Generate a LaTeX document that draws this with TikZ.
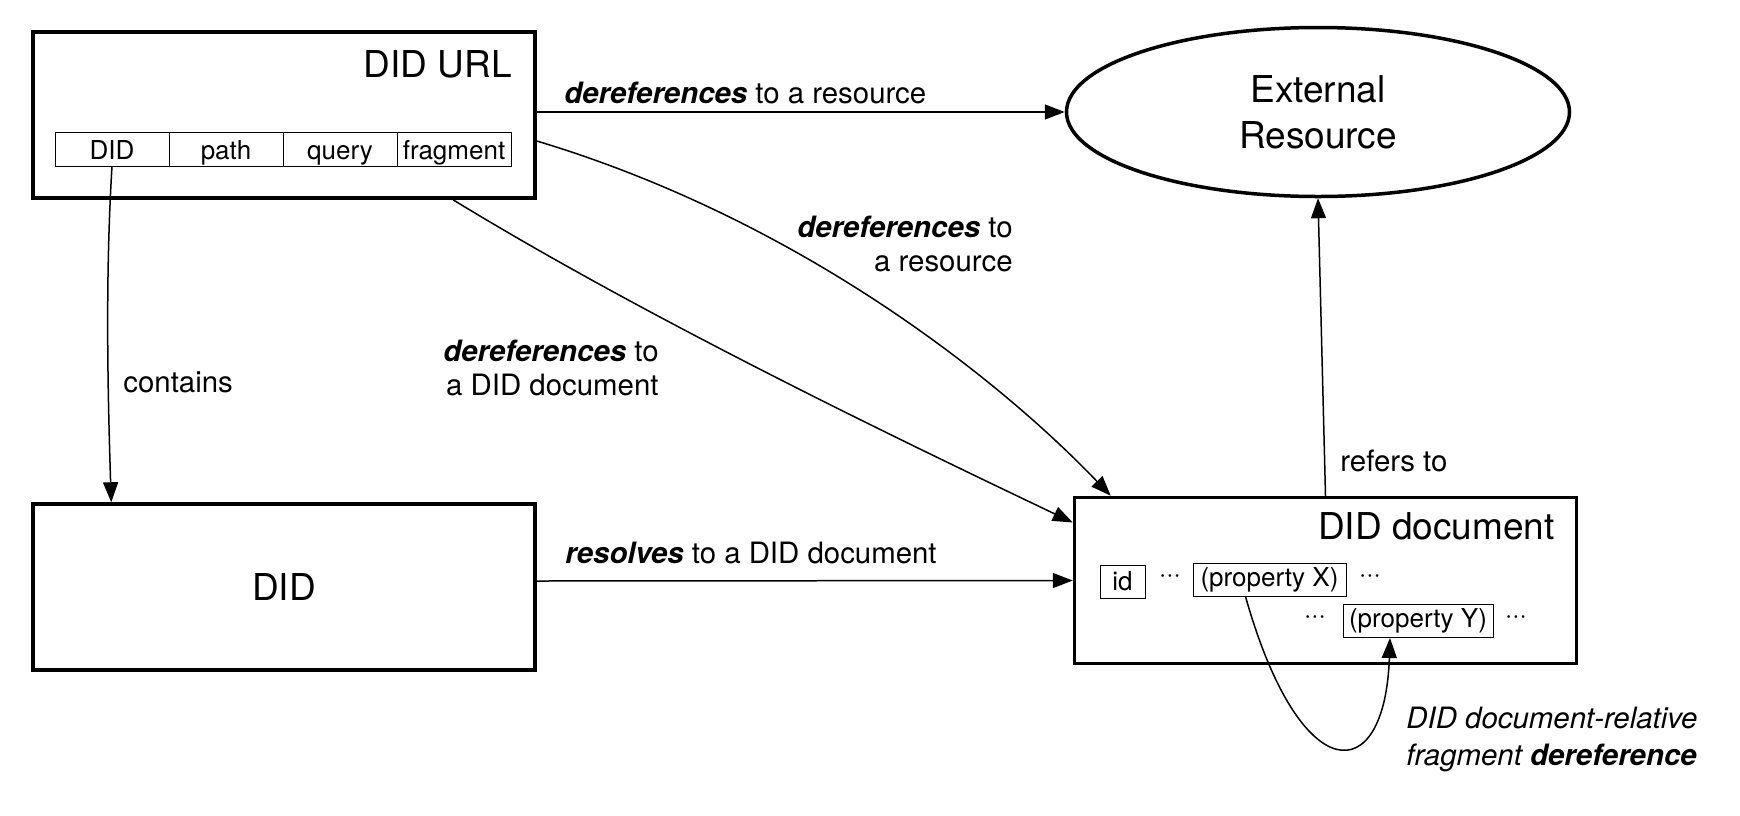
\documentclass[tikz,border=0pt]{standalone}
\usepackage{fontspec}
\setmainfont{TeX Gyre Heros}
\usetikzlibrary{arrows.meta,shapes.geometric}

\newcommand{\bigfont}{\fontsize{18.5}{23}\selectfont}
\newcommand{\lblfont}{\fontsize{14.7}{17}\selectfont}
\newcommand{\smallfont}{\fontsize{13}{15}\selectfont}

\tikzset{
	bigbox/.style={draw,line width=1.75pt,minimum width=251pt,minimum height=83pt,inner sep=0pt},
	segbox/.style={draw,line width=0.5pt,minimum width=57pt,minimum height=17pt,inner sep=0pt,
		text height=13.5pt,text depth=3.5pt,font=\smallfont},
	propbox/.style={draw,line width=0.5pt,minimum height=16.5pt,inner sep=0pt,font=\smallfont},
	lbl/.style={inner sep=0pt,font=\lblfont},
	arr/.style={line width=0.75pt,-{Triangle[length=10pt,width=7.5pt]}},
}

\begin{document}
\begin{tikzpicture}[x=0.5pt,y=-0.5pt]
	
	\useasboundingbox (0,0) rectangle (1740,815);
	
	% DID URL
	\node[bigbox] (url) at (284,115) {};
	\node[anchor=east,inner sep=0pt,font=\bigfont] (urltitle) at (512,64) {DID URL};
	\node[segbox] (segdid) at (112,149) {DID};
	\node[segbox] (segpath) at (226,149) {path};
	\node[segbox] (segquery) at (340,149) {query};
	\node[segbox] (segfrag) at (454,149) {fragment};
	
	% DID
	\node[bigbox,font=\bigfont] (did) at (284,587) {DID};
	
	% External resource
	\node[draw,ellipse,line width=1.75pt,minimum width=251.5pt,minimum height=84.5pt,
	inner sep=0pt,align=center,font=\bigfont] (ext) at (1318,112) {External\\Resource};
	
	% DID document
	\node[bigbox] (doc) at (1325.5,580.5) {};
	\node[anchor=east,inner sep=0pt,font=\bigfont] (doctitle) at (1555,526) {DID document};
	\node[propbox,minimum width=22.5pt] (id) at (1122.5,581.5) {id};
	\node[propbox,minimum width=76.5pt] (propx) at (1269.5,579.5) {(property X)};
	\node[propbox,minimum width=75pt] (propy) at (1418,621) {(property Y)};
	\node[inner sep=0pt,font=\smallfont] (dotsa) at (1170,579) {···};
	\node[inner sep=0pt,font=\smallfont] (dotsb) at (1370,579) {···};
	\node[inner sep=0pt,font=\smallfont] (dotsc) at (1315,620) {···};
	\node[inner sep=0pt,font=\smallfont] (dotsd) at (1516,620) {···};
	
	% arrows
	\draw[arr] (url.east |- ext.west) -- (ext.west);
	\draw[arr] ([yshift=-13pt]url.east) .. controls (800,220) and (1000,380) .. ([xshift=19pt]doc.north west);
	\draw[arr] ([xshift=84.5pt]url.south) .. controls (650,320) and (900,440) .. ([yshift=29pt]doc.west);
	\draw[arr] (segdid.south) .. controls (105,280) and (108,400) .. ([xshift=40pt]did.north west);
	\draw[arr] ([yshift=3pt]did.east) -- (doc.west);
	\draw[arr] (doc.north) -- (ext.south);
	\draw[arr] ([xshift=-12pt]propx.south) .. controls (1300,790) and (1385,790) .. ([xshift=-14pt]propy.south);
	
	% labels
	\node[lbl,anchor=west] (lblres) at (564,93) {\textbf{\textit{dereferences}} to a resource};
	\node[lbl,anchor=east,align=right] (lblres2) at (1013,244) {\textbf{\textit{dereferences}} to\\a resource};
	\node[lbl,anchor=east,align=right] (lbldoc) at (659,367.5) {\textbf{\textit{dereferences}} to\\a DID document};
	\node[lbl,anchor=west] (lblcont) at (123,382) {contains};
	\node[lbl,anchor=west] (lblresolve) at (565,553) {\textbf{\textit{resolves}} to a DID document};
	\node[lbl,anchor=west] (lblrefers) at (1340,461) {refers to};
	\node[lbl,anchor=west,align=left,font=\fontsize{14.7}{18.5}\selectfont\itshape] (lblfrag) at (1406,739.5)
	{DID document-relative\\fragment \textbf{dereference}};
	
\end{tikzpicture}
\end{document}
